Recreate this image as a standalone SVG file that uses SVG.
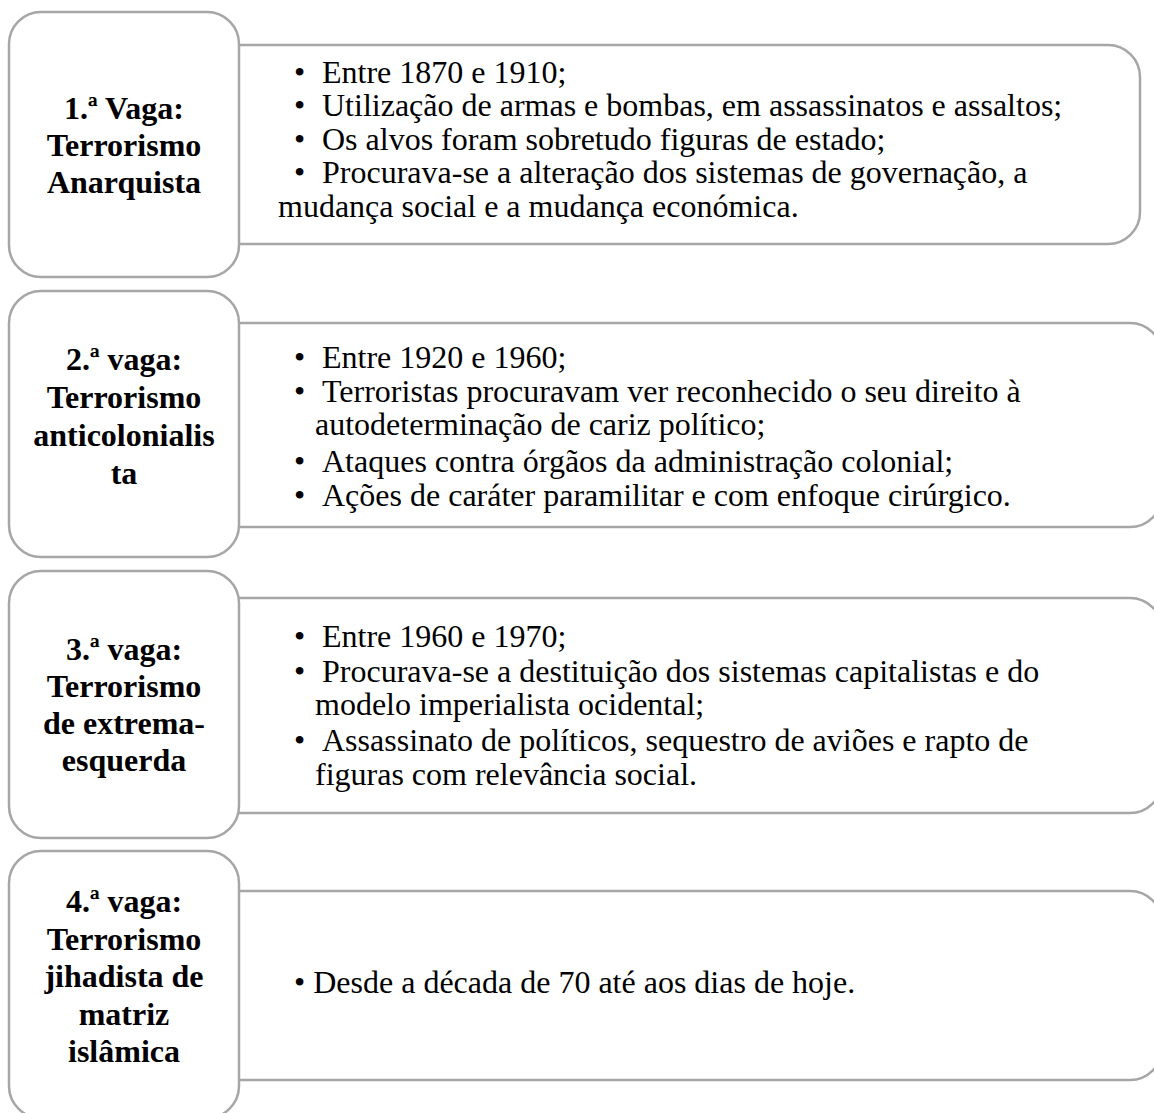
<svg xmlns="http://www.w3.org/2000/svg" width="1154" height="1113" viewBox="0 0 1154 1113">
<style>
.box{fill:#fff;stroke:#a6a6a6;stroke-width:2.5}
.h{font-family:"Liberation Serif","Times New Roman",serif;font-weight:bold;font-size:32px;fill:#000;text-anchor:middle}
.t{font-family:"Liberation Serif","Times New Roman",serif;font-size:32px;fill:#000}
</style>
<rect width="1154" height="1113" fill="#fff"/>
<g id="row1-detail">
<rect class="box" x="200" y="45" width="940" height="199" rx="32"/>
<text class="t"><tspan x="294" y="83">•</tspan><tspan x="322" y="83">Entre 1870 e 1910;</tspan><tspan x="294" y="116">•</tspan><tspan x="322" y="116">Utilização de armas e bombas, em assassinatos e assaltos;</tspan><tspan x="294" y="150">•</tspan><tspan x="322" y="150">Os alvos foram sobretudo figuras de estado;</tspan><tspan x="294" y="183">•</tspan><tspan x="322" y="183">Procurava-se a alteração dos sistemas de governação, a</tspan><tspan x="278" y="217">mudança social e a mudança económica.</tspan></text>
</g>
<g id="row1-title">
<rect class="box" x="9" y="12" width="230" height="265" rx="32"/>
<text class="h"><tspan x="124" y="119">1.ª Vaga:</tspan><tspan x="124" y="156">Terrorismo</tspan><tspan x="124" y="193">Anarquista</tspan></text>
</g>
<g id="row2-detail">
<rect class="box" x="200" y="323" width="962" height="204" rx="32"/>
<text class="t"><tspan x="294" y="368">•</tspan><tspan x="322" y="368">Entre 1920 e 1960;</tspan><tspan x="294" y="402">•</tspan><tspan x="322" y="402">Terroristas procuravam ver reconhecido o seu direito à</tspan><tspan x="315" y="435">autodeterminação de cariz político;</tspan><tspan x="294" y="472">•</tspan><tspan x="322" y="472">Ataques contra órgãos da administração colonial;</tspan><tspan x="294" y="506">•</tspan><tspan x="322" y="506">Ações de caráter paramilitar e com enfoque cirúrgico.</tspan></text>
</g>
<g id="row2-title">
<rect class="box" x="9" y="291" width="230" height="266" rx="32"/>
<text class="h"><tspan x="124" y="370">2.ª vaga:</tspan><tspan x="124" y="408">Terrorismo</tspan><tspan x="124" y="446">anticolonialis</tspan><tspan x="124" y="484">ta</tspan></text>
</g>
<g id="row3-detail">
<rect class="box" x="200" y="598" width="962" height="215" rx="32"/>
<text class="t"><tspan x="294" y="647">•</tspan><tspan x="322" y="647">Entre 1960 e 1970;</tspan><tspan x="294" y="682">•</tspan><tspan x="322" y="682">Procurava-se a destituição dos sistemas capitalistas e do</tspan><tspan x="315" y="715">modelo imperialista ocidental;</tspan><tspan x="294" y="751">•</tspan><tspan x="322" y="751">Assassinato de políticos, sequestro de aviões e rapto de</tspan><tspan x="315" y="785">figuras com relevância social.</tspan></text>
</g>
<g id="row3-title">
<rect class="box" x="9" y="571" width="230" height="267" rx="32"/>
<text class="h"><tspan x="124" y="660">3.ª vaga:</tspan><tspan x="124" y="697">Terrorismo</tspan><tspan x="124" y="734">de extrema-</tspan><tspan x="124" y="771">esquerda</tspan></text>
</g>
<g id="row4-detail">
<rect class="box" x="200" y="891" width="962" height="189" rx="32"/>
<text class="t"><tspan x="294" y="993">• Desde a década de 70 até aos dias de hoje.</tspan></text>
</g>
<g id="row4-title">
<rect class="box" x="9" y="851" width="230" height="267" rx="32"/>
<text class="h"><tspan x="124" y="912">4.ª vaga:</tspan><tspan x="124" y="950">Terrorismo</tspan><tspan x="124" y="987">jihadista de</tspan><tspan x="124" y="1025">matriz</tspan><tspan x="124" y="1062">islâmica</tspan></text>
</g>
<g id="connectors"/>
</svg>
